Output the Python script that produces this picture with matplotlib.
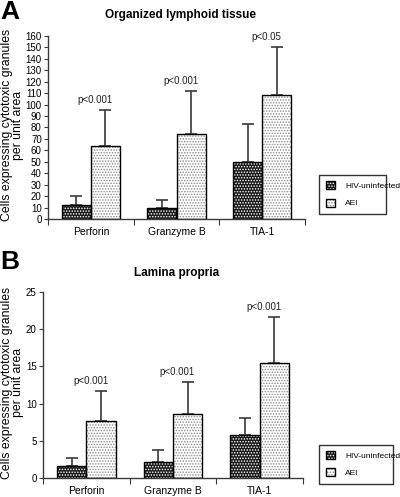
import matplotlib
matplotlib.use("Agg")
import matplotlib.pyplot as plt
from matplotlib.patches import Patch
from matplotlib.legend_handler import HandlerTuple
import numpy as np

plt.rcParams['font.family'] = ['Liberation Sans', 'DejaVu Sans']
plt.rcParams['hatch.linewidth'] = 0.7

categories = ["Perforin", "Granzyme B", "TIA-1"]
groups = ["HIV-uninfected", "AEI"]

# panel A: organized lymphoid tissue
a_hiv = [12, 9.5, 49.5]
a_hiv_err = [8.5, 7, 33.5]
a_aei = [63.5, 74, 108]
a_aei_err = [32, 38, 42.5]
a_pvals = ["p<0.001", "p<0.001", "p<0.05"]

# panel B: lamina propria
b_hiv = [1.6, 2.1, 5.8]
b_hiv_err = [1.1, 1.6, 2.2]
b_aei = [7.6, 8.6, 15.4]
b_aei_err = [4.1, 4.3, 6.3]
b_pvals = ["p<0.001", "p<0.001", "p<0.001"]

W, H = 400, 497
fig = plt.figure(figsize=(W / 100, H / 100), dpi=100)
bw = 0.34
dark = '#1a1a1a'
line = '#3a3a3a'
hatch = '......'


def panel(rect, hiv, hiv_err, aei, aei_err, pvals, ymax, ystep, title, letter, title_y, letter_y, leg_rect):
    ax = fig.add_axes(rect)
    x = np.arange(len(categories))
    xh = x - bw / 2
    xa = x + bw / 2
    # dark bars: black fill with white dots
    ax.bar(xh, hiv, bw, color=dark, edgecolor='white', hatch=hatch, linewidth=0, zorder=2)
    ax.bar(xh, hiv, bw, fill=False, edgecolor='black', linewidth=1.0, zorder=3)
    # light bars: white fill with grey dots
    ax.bar(xa, aei, bw, color='white', edgecolor='#8a8a8a', hatch=hatch, linewidth=0, zorder=2)
    ax.bar(xa, aei, bw, fill=False, edgecolor='black', linewidth=1.0, zorder=3)
    ax.errorbar(xh, hiv, yerr=[np.zeros(3), hiv_err], fmt='none', ecolor=line,
                elinewidth=1.2, capsize=4, capthick=1.2, zorder=1)
    ax.errorbar(xa, aei, yerr=[np.zeros(3), aei_err], fmt='none', ecolor=line,
                elinewidth=1.2, capsize=4, capthick=1.2, zorder=1)
    for i in range(len(categories)):
        top = aei[i] + aei_err[i]
        ax.text(x[i] + 0.05, top + ymax * 0.025, pvals[i], ha='center', va='bottom',
                fontsize=7, color='#222222')
    ax.set_xlim(-0.5, 2.5)
    ax.set_ylim(0, ymax)
    ax.set_yticks(np.arange(0, ymax + 0.1, ystep))
    ax.set_xticks([-0.5, 0.5, 1.5, 2.5])
    ax.set_xticklabels([])
    ax.set_xticks(x, minor=True)
    ax.set_xticklabels(categories, minor=True, fontsize=7.5)
    ax.tick_params(axis='x', which='minor', length=0, pad=5.5)
    ax.tick_params(axis='x', which='major', length=4, width=0.8, color=line)
    ax.tick_params(axis='y', length=3, width=0.8, color=line, labelsize=7, pad=1.5)
    for s in ['top', 'right']:
        ax.spines[s].set_visible(False)
    for s in ['left', 'bottom']:
        ax.spines[s].set_color(line)
        ax.spines[s].set_linewidth(1.0)
    fig.text(rect[0] + rect[2] / 2 + 0.01, title_y, title, ha='center', va='center',
             fontsize=8.5, fontweight='bold')
    fig.text(0.0, letter_y, letter, ha='left', va='top', fontsize=19, fontweight='bold')
    fig.text(0.031, rect[1] + rect[3] / 2 + 0.005,
             "Cells expressing cytotoxic granules\nper unit area",
             rotation=90, ha='center', va='center', fontsize=8.8, linespacing=0.95)
    h1 = (Patch(facecolor=dark, edgecolor='white', hatch=hatch, linewidth=0),
          Patch(fill=False, edgecolor='black', linewidth=1.0))
    h2 = (Patch(facecolor='white', edgecolor='#8a8a8a', hatch=hatch, linewidth=0),
          Patch(fill=False, edgecolor='black', linewidth=1.0))
    leg = fig.legend([h1, h2], groups, loc='lower left', bbox_to_anchor=leg_rect, mode='expand',
                     handler_map={tuple: HandlerTuple(ndivide=1, pad=0)},
                     fontsize=6, frameon=True, fancybox=False, edgecolor='black',
                     handlelength=1.1, handleheight=1.1, labelspacing=1.0, borderpad=0.8,
                     handletextpad=1.2)
    leg.get_frame().set_linewidth(1.0)
    return ax


panel([0.12, 0.5594, 0.6425, 0.3682], a_hiv, a_hiv_err, a_aei, a_aei_err, a_pvals,
      160, 10, "Organized lymphoid tissue", "A", 1 - 15 / H, 1.0,
      (0.7875, 0.561, 0.1875, 0.083))
panel([0.1075, 0.0382, 0.65, 0.3743], b_hiv, b_hiv_err, b_aei, b_aei_err, b_pvals,
      25, 5, "Lamina propria", "B", 1 - 273 / H, 1 - 250 / H,
      (0.7875, 0.018, 0.205, 0.092))

fig.savefig("out.png", dpi=100)
